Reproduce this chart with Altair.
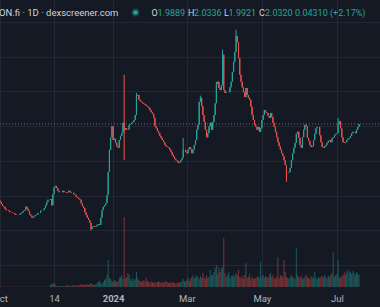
import altair as alt
import pandas as pd

# ---- data (daily candles, day 0 = 2023-10-01) ----
first_open = 0.93
closes = [
    0.91, 0.88, 0.85, 0.84, 0.81, 0.79, 0.79, 0.78, 0.76, 0.76,
    0.75, 0.75, 0.73, 0.72, 0.72, 0.72, 0.73, 0.75, 0.76, 0.78,
    0.79, 0.84, 0.81, 0.78, 0.73, 0.71, 0.68, 0.69, 0.71, 0.72,
    0.73, 0.75, 0.75, 0.78, 0.79, 0.79, 0.82, 0.86, 0.91, 0.94,
    0.94, 0.95, 0.86, 1.02, 1.12, 1.14, 1.11, 1.07, 1.05, 1.05,
    1.05, 1.07, 1.05, 1.05, 1.04, 1.05, 1.07, 1.05, 1.04, 1.04,
    1.02, 1.01, 0.98, 0.97, 0.95, 0.94, 0.89, 0.85, 0.82, 0.76,
    0.72, 0.68, 0.65, 0.61, 0.52, 0.55, 0.56, 0.55, 0.56, 0.58,
    0.59, 0.58, 0.68, 0.79, 0.84, 0.86, 0.89, 1.01, 1.34, 1.66,
    1.84, 2.00, 1.80, 1.82, 1.76, 1.71, 1.69, 1.80, 1.86, 1.90,
    2.05, 1.95, 1.97, 1.95, 1.95, 2.02, 2.03, 2.05, 2.06, 2.09,
    2.16, 2.44, 2.45, 2.38, 2.36, 2.35, 2.33, 2.32, 2.31, 2.29,
    2.28, 2.26, 2.23, 2.20, 2.18, 2.12, 2.00, 1.97, 1.93, 1.90,
    1.86, 1.83, 1.80, 1.77, 1.73, 1.71, 1.70, 1.69, 1.66, 1.63,
    1.59, 1.56, 1.53, 1.51, 1.50, 1.47, 1.48, 1.51, 1.54, 1.66,
    1.66, 1.63, 1.61, 1.66, 1.70, 1.67, 1.61, 1.66, 1.73, 1.80,
    1.95, 2.02, 2.35, 2.41, 2.29, 2.16, 2.06, 1.95, 1.84, 1.90,
    2.00, 2.05, 1.95, 2.06, 2.16, 2.33, 2.61, 2.64, 2.55, 2.52,
    2.59, 3.03, 2.52, 2.48, 2.49, 2.49, 2.49, 2.56, 2.64, 2.78,
    2.93, 3.07, 3.30, 3.21, 2.98, 2.74, 2.64, 2.56, 2.49, 2.42,
    2.55, 2.45, 2.41, 2.38, 2.28, 2.16, 2.09, 2.02, 1.99, 1.95,
    1.99, 1.92, 1.97, 2.09, 2.16, 2.23, 2.20, 2.19, 2.15, 2.12,
    2.19, 2.13, 2.05, 1.99, 1.92, 1.84, 1.77, 1.71, 1.66, 1.61,
    1.57, 1.51, 1.44, 1.33, 1.33, 1.34, 1.40, 1.51, 1.61, 1.69,
    1.76, 1.89, 1.92, 1.83, 1.73, 1.69, 1.84, 1.95, 2.02, 2.00,
    1.83, 1.79, 1.73, 1.70, 1.71, 1.80, 1.89, 1.97, 1.99, 1.99,
    1.87, 1.77, 1.70, 1.69, 1.71, 1.73, 1.76, 1.79, 1.80, 1.77,
    1.83, 1.84, 1.87, 1.89, 1.90, 2.03, 2.07, 1.97, 1.84, 1.77,
    1.76, 1.77, 1.80, 1.82, 1.83, 1.86, 1.90, 1.92, 1.92, 1.90,
    1.95, 1.9889, 2.032,
]
# volume in $K
volumes = [8] * 41 + [
    50, 75, 75, 100, 50, 25, 25, 25, 25,
    25, 25, 25, 25, 25, 50, 25, 25, 25, 50,
    25, 50, 50, 25, 50, 50, 75, 50, 50, 75,
    50, 75, 50, 75, 100, 75, 50, 50, 75, 100,
    125, 150, 100, 75, 125, 175, 200, 300, 675, 225,
    200, 150, 125, 175, 150, 125, 150, 225, 250, 300,
    200, 1750, 225, 250, 350, 300, 200, 150, 225, 175,
    200, 375, 225, 175, 150, 125, 150, 175, 125, 225,
    150, 125, 100, 150, 125, 100, 125, 100, 125, 150,
    125, 100, 125, 100, 125, 150, 125, 100, 100, 125,
    100, 125, 100, 75, 100, 125, 100, 125, 150, 200,
    150, 125, 175, 225, 150, 200, 250, 300, 225, 250,
    300, 250, 200, 275, 225, 350, 250, 200, 300, 225,
    250, 425, 300, 300, 375, 475, 550, 325, 500, 375,
    450, 500, 1225, 350, 250, 300, 375, 225, 275, 300,
    250, 300, 350, 300, 425, 250, 225, 275, 200, 300,
    600, 225, 250, 325, 200, 250, 225, 200, 225, 250,
    275, 225, 625, 250, 300, 225, 275, 250, 225, 300,
    350, 250, 300, 225, 200, 250, 750, 225, 300, 275,
    250, 675, 375, 250, 225, 200, 250, 300, 250, 225,
    200, 975, 300, 250, 225, 275, 200, 225, 250, 300,
    250, 225, 200, 275, 225, 250, 375, 225, 200, 250,
    225, 250, 275, 225, 300, 250, 225, 275, 250, 300,
    350, 875, 250, 300, 325, 675, 250, 225, 275, 300,
    375, 300, 400, 350, 425, 375, 325, 400, 350, 300,
    375, 325, 300,
]
# wicks that are visible in the picture: day -> price
wick_high = {101: 2.74, 111: 2.48, 149: 1.83, 163: 2.44, 176: 2.64,
             181: 3.10, 192: 3.39, 275: 2.12, 292: 2.0336}
wick_low = {74: 0.50, 101: 1.51, 233: 1.20, 292: 1.9921}

tick_days = [0, 44, 92, 152, 213, 274]
tick_labels = ["Oct", "14", "2024", "Mar", "May", "Jul"]
grid_prices = [0, 0.5, 1.0, 1.5, 2.0, 2.5, 3.0, 3.5]

header_title = "ON.fi · 1D · dexscreener.com"
ohlc_keys = ["O", "H", "L", "C"]
ohlc_vals = ["1.9889", "2.0336", "1.9921", "2.0320"]
change_text = "0.04310 (+2.17%)"

# ---- table ----
n = len(closes)
opens = [first_open] + closes[:-1]
highs = [wick_high.get(i, max(o, c)) for i, (o, c) in enumerate(zip(opens, closes))]
lows = [wick_low.get(i, min(o, c)) for i, (o, c) in enumerate(zip(opens, closes))]
df = pd.DataFrame({
    "day": list(range(n)), "open": opens, "close": closes,
    "high": highs, "low": lows, "volume": volumes[:n],
})
df["dir"] = ["up" if c >= o else "down" for o, c in zip(opens, closes)]

BG = "#151924"
UP = "#26a69a"
DOWN = "#ef5350"
GRID = "#232734"

X_DOM = [0, 309.07]
Y_DOM = [-0.317, 3.8184]

xs = alt.Scale(domain=X_DOM, nice=False, zero=False)
ys = alt.Scale(domain=Y_DOM, nice=False, zero=False)
color = alt.Color("dir:N", scale=alt.Scale(domain=["up", "down"], range=[UP, DOWN]), legend=None)

label_expr = " : ".join(
    f"datum.value == {d} ? '{t}'" for d, t in zip(tick_days, tick_labels)
) + " : ''"

x_axis = alt.Axis(values=tick_days, labelExpr=label_expr, grid=True, gridColor=GRID,
                  gridWidth=1, ticks=False, domain=False, labelFlush=False,
                  labelColor="#b2b5be", labelFont="Roboto", labelFontSize=9.5,
                  labelPadding=6, labelBaseline="top", labelOverlap=False,
                  labelFontWeight=alt.ExprRef("datum.value == 92 ? 'bold' : 'normal'"),
                  title=None)
y_axis = alt.Axis(values=grid_prices, grid=True, gridColor=GRID, labels=False,
                  ticks=False, domain=False, title=None, orient="right")

base = alt.Chart(df)

vol = base.transform_calculate(x0="datum.day - 0.42", x1="datum.day + 0.42", z="0").mark_rect(
    opacity=0.45).encode(
    x=alt.X("x0:Q", scale=xs, axis=x_axis),
    x2="x1:Q",
    y=alt.Y("volume:Q", scale=alt.Scale(domain=[0, 7175], nice=False), axis=None),
    y2="z:Q",
    color=color,
)

wicks = base.mark_rule(strokeWidth=1).encode(
    x=alt.X("day:Q", scale=xs, axis=x_axis),
    y=alt.Y("low:Q", scale=ys, axis=y_axis),
    y2="high:Q",
    color=color,
)

bodies = base.transform_calculate(x0="datum.day - 0.45", x1="datum.day + 0.45").mark_rect().encode(
    x=alt.X("x0:Q", scale=xs, axis=x_axis),
    x2="x1:Q",
    y=alt.Y("open:Q", scale=ys, axis=y_axis),
    y2="close:Q",
    color=color,
)

last = df.tail(1)
pline = alt.Chart(last).mark_rule(strokeDash=[1, 2], color="#6a6e7a", strokeWidth=1).encode(
    y=alt.Y("close:Q", scale=ys, axis=y_axis),
    x=alt.value(0), x2=alt.value(380),
)

price = alt.layer(pline, wicks, bodies)

one = pd.DataFrame({"k": [0]})
def txt(s, x, col, size=9.0, weight="normal"):
    return alt.Chart(one).mark_text(text=s, align="left", baseline="middle", font="Roboto",
                                    fontSize=size, color=col, fontWeight=weight).encode(
        x=alt.value(x), y=alt.value(12.5))

texts = [txt(header_title, -1, "#d1d4dc", 9.5)]
kx = [151.5, 188, 224, 259]
vx = [157.5, 194, 228.5, 265]
for k, v, a, b in zip(ohlc_keys, ohlc_vals, kx, vx):
    texts.append(txt(k, a, "#d1d4dc", 9.0))
    texts.append(txt(v, b, UP, 9.0))
texts.append(txt(change_text, 295, UP, 9.0))

glow = alt.Chart(one).mark_point(filled=True, size=70, color=UP, opacity=0.25).encode(
    x=alt.value(135.5), y=alt.value(12.5))
dot = alt.Chart(one).mark_point(filled=True, size=22, color=UP, opacity=1).encode(
    x=alt.value(135.5), y=alt.value(12.5))

chart = alt.layer(price, vol, glow, dot, *texts).resolve_scale(
    y="independent", color="shared").properties(
    width=380, height=287, autosize="none",
    padding={"left": 0, "top": 0, "right": 0, "bottom": 20},
    background=BG,
).configure_view(stroke=None)

chart.save("out.html", embed_options={"renderer": "svg", "actions": False})
